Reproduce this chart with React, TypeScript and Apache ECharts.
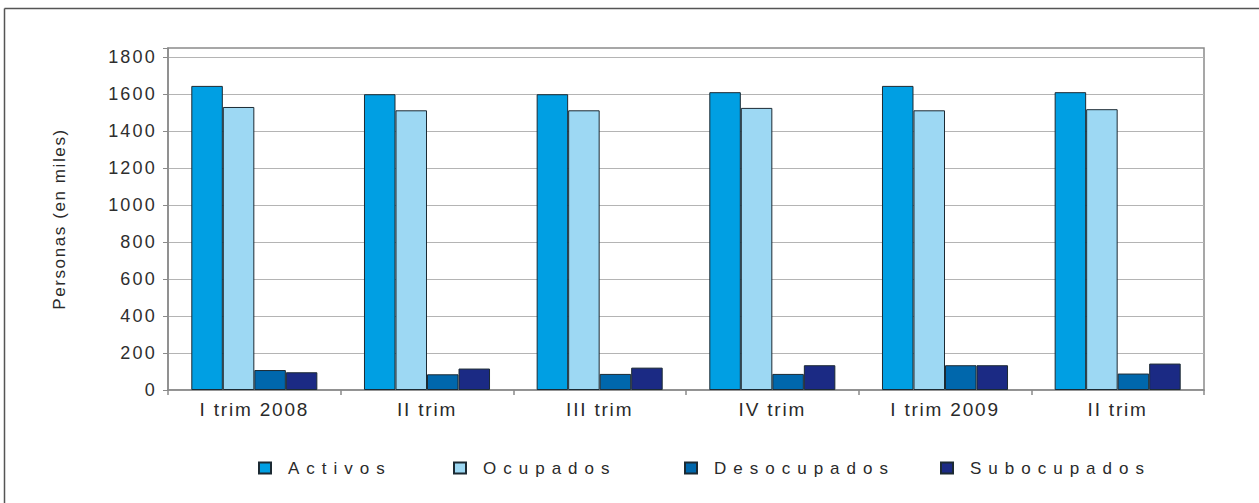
import React, { useEffect, useRef } from "react";
import * as echarts from "echarts";

const categories = ["I trim 2008", "II trim", "III trim", "IV trim", "I trim 2009", "II trim"];
const activos = [1645, 1600, 1600, 1611, 1645, 1611];
const ocupados = [1531, 1513, 1513, 1526, 1513, 1519];
const desocupados = [108, 85, 87, 87, 134, 89];
const subocupados = [96, 116, 121, 134, 134, 143];
const seriesNames = ["Activos", "Ocupados", "Desocupados", "Subocupados"];
const colors = ["#009FE3", "#9DD8F3", "#0067AC", "#1B2A84"];
const yAxisName = "Personas (en miles)";
const legendLefts = [258, 453, 684, 940];

const FONT = "'Liberation Sans', Arial, sans-serif";

function applySpacing(dom: HTMLElement) {
  const texts = dom.querySelectorAll("text");
  texts.forEach((t) => {
    const s = (t.textContent || "").trim();
    let ls = 0;
    if (seriesNames.includes(s)) ls = 7;
    else if (categories.includes(s)) ls = 1.8;
    else if (s === yAxisName) ls = 1.6;
    else if (/^\d+$/.test(s)) ls = 2.2;
    if (ls) t.setAttribute("letter-spacing", String(ls));
  });
}

export default function App() {
  const ref = useRef<HTMLDivElement>(null);
  useEffect(() => {
    if (!ref.current) return;
    const chart = echarts.init(ref.current, null, { renderer: "svg" });
    const data = [activos, ocupados, desocupados, subocupados];
    chart.setOption({
      animation: false,
      backgroundColor: "#ffffff",
      textStyle: { fontFamily: FONT },
      grid: {
        left: 168,
        right: 55,
        top: 48,
        bottom: 113,
        show: true,
        borderColor: "#8a8a8a",
        borderWidth: 1.5,
        containLabel: false,
      },
      legend: seriesNames.map((n, i) => ({
        data: [n],
        left: legendLefts[i],
        top: 459,
        padding: 0,
        itemWidth: 12,
        itemHeight: 11,
        itemGap: 0,
        icon: "rect",
        selectedMode: false,
        textStyle: {
          fontFamily: FONT,
          fontSize: 17,
          color: "#2a2a2a",
          lineHeight: 18,
          padding: [0, 0, 0, 12],
        },
      })),
      xAxis: {
        type: "category",
        data: categories,
        axisLine: { lineStyle: { color: "#8a8a8a", width: 1.5 } },
        axisTick: { show: true, length: 5, lineStyle: { color: "#8a8a8a", width: 1.5 } },
        axisLabel: { fontSize: 19, color: "#2a2a2a", margin: 10, fontFamily: FONT },
      },
      yAxis: {
        type: "value",
        min: 0,
        max: 1850,
        interval: 200,
        name: yAxisName,
        nameLocation: "middle",
        nameGap: 100,
        nameTextStyle: { fontSize: 17, color: "#2a2a2a", fontFamily: FONT },
        axisLine: { show: true, lineStyle: { color: "#8a8a8a", width: 1.5 } },
        axisTick: { show: true, length: 5, lineStyle: { color: "#8a8a8a", width: 1 } },
        axisLabel: {
          fontSize: 18,
          color: "#2e2e2e",
          margin: 11,
          fontFamily: FONT,
          formatter: (v: number) => (v % 200 === 0 ? String(v) : ""),
        },
        splitLine: { show: true, showMaxLine: false, lineStyle: { color: "#b4b4b4", width: 1.2 } },
      },
      series: seriesNames.map((n, i) => ({
        name: n,
        type: "bar",
        data: data[i],
        barGap: "0%",
        barCategoryGap: "27%",
        itemStyle: { color: colors[i], borderColor: "#1c2a33", borderWidth: 1 },
      })),
      graphic: [
        { type: "line", shape: { x1: 4.5, y1: 8.5, x2: 1259, y2: 8.5 }, style: { stroke: "#555555", lineWidth: 1.5 } },
        { type: "line", shape: { x1: 4.5, y1: 8.5, x2: 4.5, y2: 503 }, style: { stroke: "#555555", lineWidth: 1.5 } },
      ],
    });
    applySpacing(ref.current);
    const dom = ref.current;
    chart.on("rendered", () => applySpacing(dom));
    return () => chart.dispose();
  }, []);
  return (
    <div
      ref={ref}
      style={{ position: "fixed", left: 0, top: 0, width: 1259, height: 503, background: "#fff" }}
    />
  );
}
